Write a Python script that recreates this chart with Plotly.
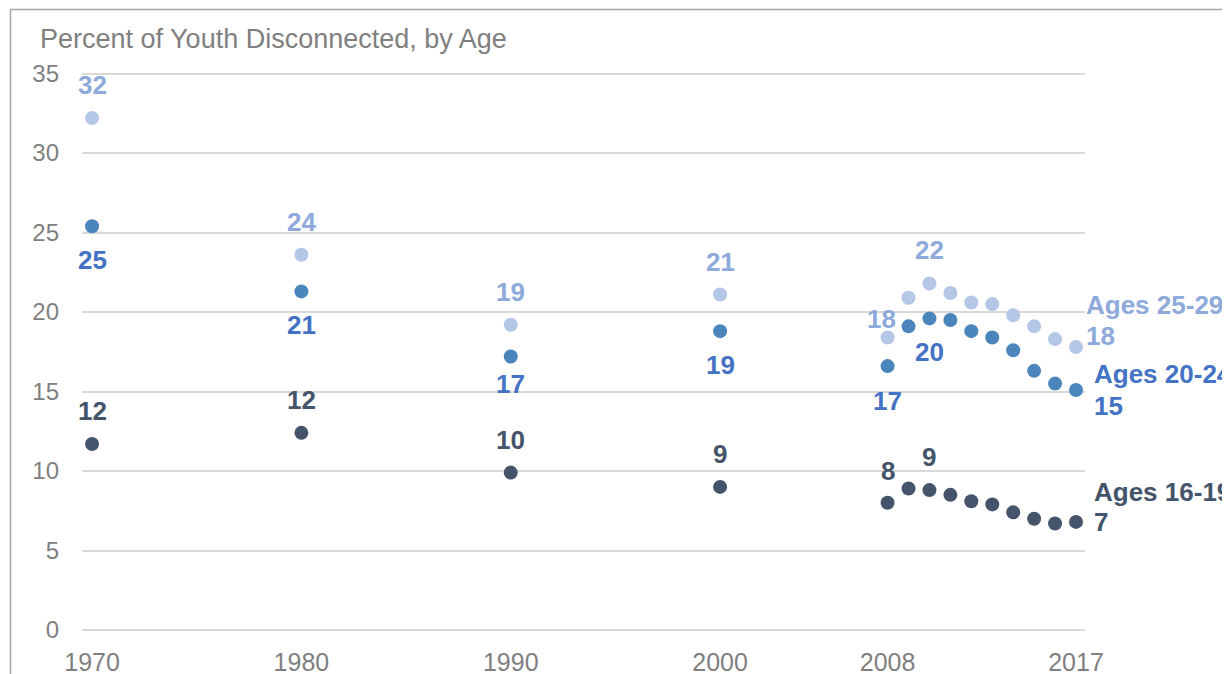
"""
Percent of youth disconnected, by age group (1970-2017), dot chart
"""
import plotly.graph_objects as go

# data
years = [1970, 1980, 1990, 2000, 2008, 2009, 2010, 2011, 2012, 2013, 2014, 2015, 2016, 2017]
ages_16_19 = [11.7, 12.4, 9.9, 9.0, 8.0, 8.9, 8.8, 8.5, 8.1, 7.9, 7.4, 7.0, 6.7, 6.8]
ages_20_24 = [25.4, 21.3, 17.2, 18.8, 16.6, 19.1, 19.6, 19.5, 18.8, 18.4, 17.6, 16.3, 15.5, 15.1]
ages_25_29 = [32.2, 23.6, 19.2, 21.1, 18.4, 20.9, 21.8, 21.2, 20.6, 20.5, 19.8, 19.1, 18.3, 17.8]
series_names = ["Ages 25-29", "Ages 20-24", "Ages 16-19"]
x_ticks = [1970, 1980, 1990, 2000, 2008, 2017]
y_ticks = [0, 5, 10, 15, 20, 25, 30, 35]
axis_title = "Percent of Youth Disconnected, by Age"

FONT = "Liberation Sans, Arial, sans-serif"
marker_colors = ["#b4c7e7", "#4a86bb", "#44546a"]
label_colors = ["#8eaadb", "#4472c4", "#44546a"]

# which points get a value label, and pixel offset of the label from the dot
point_labels = [
    {1970: (0, 33), 1980: (0, 33), 1990: (0, 33), 2000: (0, 33), 2008: (-6, 18), 2010: (0, 33)},
    {1970: (0, -34), 1980: (0, -34), 1990: (0, -27), 2000: (0, -34), 2008: (0, -35), 2010: (0, -34)},
    {1970: (0, 33), 1980: (0, 33), 1990: (0, 33), 2000: (0, 33), 2008: (0, 32), 2010: (0, 33)},
]
# end-of-line labels: (xshift, name yshift, value yshift)
end_labels = [(8, 42, 11), (16, 16, -16), (16, 30, 0)]

fig = go.Figure()
annotations = []
for i, vals in enumerate([ages_25_29, ages_20_24, ages_16_19]):
    fig.add_trace(go.Scatter(x=years, y=vals, mode="markers", name=series_names[i],
                             marker=dict(size=14, color=marker_colors[i]),
                             showlegend=False))
    lab_font = dict(family=FONT, size=26, color=label_colors[i])
    for yr, (dx, dy) in point_labels[i].items():
        v = vals[years.index(yr)]
        annotations.append(dict(x=yr, y=v, xref="x", yref="y", text=f"<b>{v:.0f}</b>",
                                showarrow=False, xshift=dx, yshift=dy, font=lab_font,
                                xanchor="center", yanchor="middle"))
    # series name + last value at the right end
    dx, dy_name, dy_val = end_labels[i]
    annotations.append(dict(x=years[-1], y=vals[-1], xref="x", yref="y", text=f"<b>{series_names[i]}</b>",
                            showarrow=False, xshift=dx, yshift=dy_name, xanchor="left", yanchor="middle",
                            font=lab_font))
    annotations.append(dict(x=years[-1], y=vals[-1], xref="x", yref="y", text=f"<b>{vals[-1]:.0f}</b>",
                            showarrow=False, xshift=dx, yshift=dy_val, xanchor="left", yanchor="middle",
                            font=lab_font))

# axis title, Excel style, above the plot
annotations.append(dict(x=-0.044, y=1.059, xref="paper", yref="paper", text=axis_title,
                        showarrow=False, xanchor="left", yanchor="middle",
                        font=dict(family=FONT, size=27, color="#7f7f7f")))

# page body has an 8px margin, so the figure is 8px smaller and shifted
fig.update_layout(
    width=1222, height=666,
    margin=dict(l=74, r=145, t=64, b=44),
    paper_bgcolor="white", plot_bgcolor="white",
    font=dict(family=FONT, color="#7f7f7f"),
    annotations=annotations,
    shapes=[dict(type="rect", xref="paper", yref="paper", x0=-0.0713, x1=1.3, y0=-0.3, y1=1.112,
                 line=dict(color="#a6a6a6", width=1.5), layer="below")],
)
fig.update_xaxes(range=[1969.52, 2017.43], tickvals=x_ticks, ticktext=[str(t) for t in x_ticks],
                 showgrid=False, zeroline=False, showline=False, ticks="", automargin=False,
                 tickfont=dict(family=FONT, size=25, color="#7f7f7f"), ticklabelstandoff=15)
fig.update_yaxes(range=[0, 35.1], tickvals=y_ticks, showgrid=True, gridcolor="#d9d9d9", gridwidth=1.5,
                 zeroline=True, zerolinecolor="#d9d9d9", zerolinewidth=1.5,
                 showline=False, ticks="", automargin=False,
                 tickfont=dict(family=FONT, size=24, color="#7f7f7f"), ticklabelstandoff=22)

fig.write_html("out.html")
